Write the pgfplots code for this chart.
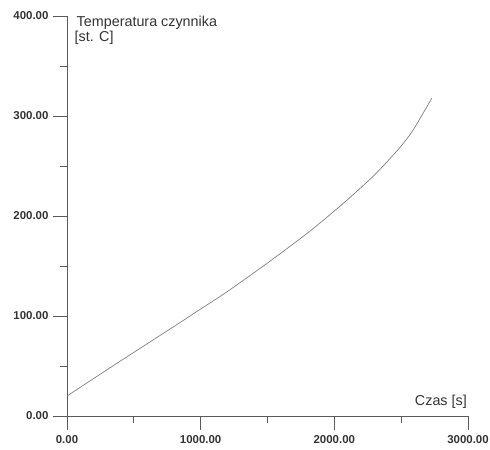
\documentclass[border=0pt]{standalone}
\usepackage{pgfplots}
\pgfplotsset{compat=1.18}
\usepackage{fontspec}
\setmainfont{Liberation Sans}
\definecolor{axisgray}{HTML}{5A5A5A}
\definecolor{curvegray}{HTML}{808080}
\definecolor{labelgray}{HTML}{333333}
\begin{document}
\begin{tikzpicture}
\begin{axis}[
  scale only axis,
  width=401bp, height=400bp,
  xmin=0, xmax=3000, ymin=0, ymax=400,
  axis x line*=bottom, axis y line*=left,
  axis line style={axisgray, line width=0.8pt},
  xtick={0,1000,2000,3000}, minor xtick={500,1500,2500},
  ytick={0,100,200,300,400}, minor ytick={50,150,250,350},
  tick align=outside,
  major tick length=14bp, minor tick length=7bp,
  tick style={axisgray, line width=0.8pt},
  every tick label/.append style={font=\fontsize{11.5}{13}\selectfont\bfseries, text=labelgray},
  /pgf/number format/.cd, fixed, fixed zerofill, precision=2, 1000 sep={}, assume math mode=true,
  /pgfplots/.cd,
  xticklabel style={yshift=-2bp},
  yticklabel style={xshift=-1bp},
  clip=false,
]
\addplot[curvegray, line width=0.7pt, smooth] coordinates {
 (0,20) (400,55) (800,89.5) (1000,107) (1200,124.5) (1500,153) (1800,183)
 (2000,205) (2100,216.5) (2200,228.5) (2300,241) (2400,255) (2500,270)
 (2580,284) (2650,299.5) (2730,318)
};
\node[anchor=base west, inner sep=0, font=\fontsize{14.4}{16}\selectfont, text=labelgray]
  at (rel axis cs:0,1) [xshift=9.5bp, yshift=-10.7bp] {Temperatura czynnika};
\node[anchor=base west, inner sep=0, font=\fontsize{14.4}{16}\selectfont, text=labelgray]
  at (rel axis cs:0,1) [xshift=7.5bp, yshift=-25.7bp] {[st. C]};
\node[anchor=base east, inner sep=0, font=\fontsize{14.4}{16}\selectfont, text=labelgray]
  at (rel axis cs:1,0) [xshift=-1bp, yshift=10.5bp] {Czas [s]};
\end{axis}
\pgfresetboundingbox
\useasboundingbox (-67bp,-34bp) rectangle (423bp,416bp);
\end{tikzpicture}
\end{document}
